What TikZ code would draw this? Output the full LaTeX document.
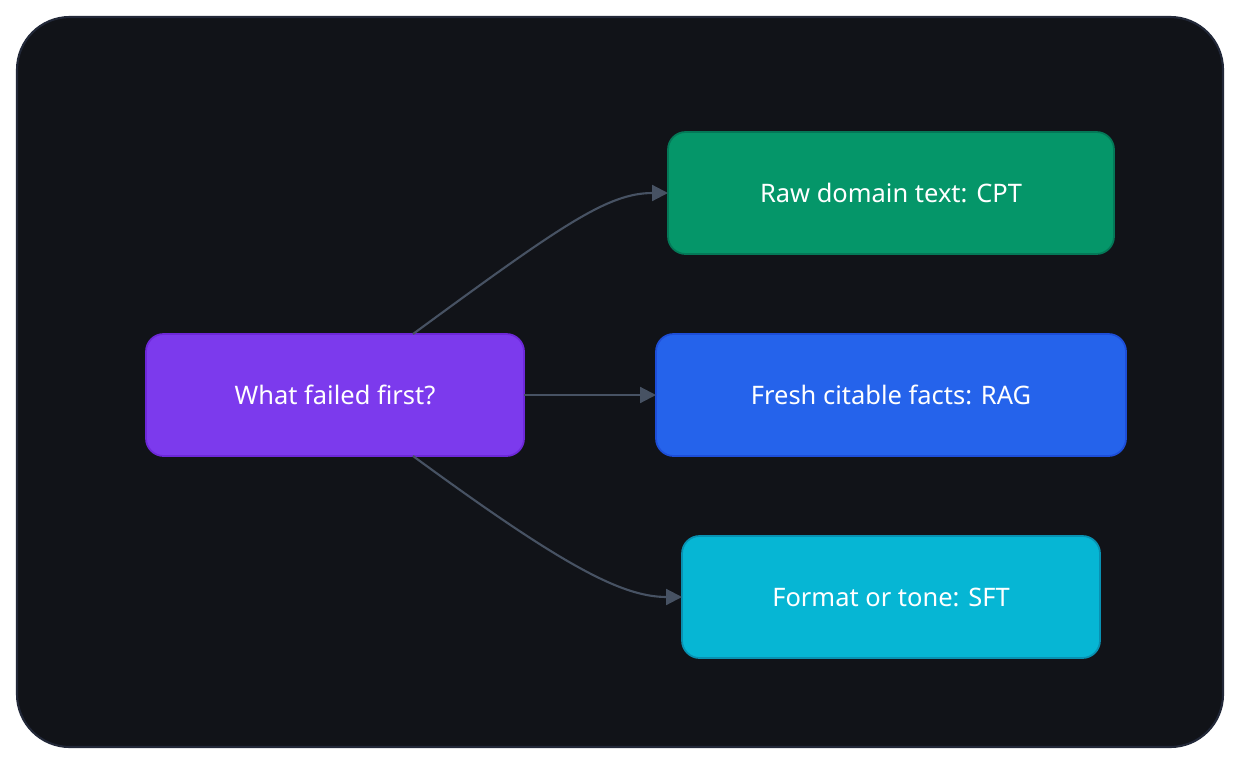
\documentclass[tikz,border=0pt]{standalone}
\usepackage{fontspec}
\setmainfont{Noto Sans}
\usetikzlibrary{arrows.meta,positioning}
\definecolor{panelbg}{HTML}{111318}
\definecolor{panelrim}{HTML}{222838}
\definecolor{linkgray}{HTML}{475263}
\definecolor{qfill}{HTML}{7C3AED}
\definecolor{qrim}{HTML}{6D28D9}
\definecolor{cptfill}{HTML}{059669}
\definecolor{cptrim}{HTML}{047857}
\definecolor{ragfill}{HTML}{2563EB}
\definecolor{ragrim}{HTML}{1D4ED8}
\definecolor{sftfill}{HTML}{06B6D4}
\definecolor{sftrim}{HTML}{0891B2}
\begin{document}
\begin{tikzpicture}[x=0.02cm,y=-0.02cm,
  box/.style={rounded corners=10, line width=1pt, text=white, font=\fontsize{14.5}{17}\selectfont, outer sep=0pt, minimum height=122*0.02cm},
  link/.style={draw=linkgray, line width=1.2pt, -{Triangle[length=9pt,width=9pt]}}]
\fill[white] (0,0) rectangle (1240,764);
\useasboundingbox (0,0) rectangle (1240,764);
\fill[panelbg, draw=panelrim, line width=1.2pt, rounded corners=30] (17,17) rectangle (1223,747);

\node[box, fill=qfill, draw=qrim, minimum width=378*0.02cm] (q) at (335,395) {What failed first?};
\node[box, fill=cptfill, draw=cptrim, minimum width=446*0.02cm] (cpt) at (891,193) {Raw domain text: CPT};
\node[box, fill=ragfill, draw=ragrim, minimum width=470*0.02cm] (rag) at (891,395) {Fresh citable facts: RAG};
\node[box, fill=sftfill, draw=sftrim, minimum width=418*0.02cm] (sft) at (891,597) {Format or tone: SFT};

\draw[link] ([xshift=78*0.02cm]q.north) .. controls +(150,-110) and +(-60,0) .. (cpt.west);
\draw[link] (q.east) -- (rag.west);
\draw[link] ([xshift=78*0.02cm]q.south) .. controls +(150,110) and +(-60,0) .. (sft.west);
\end{tikzpicture}
\end{document}
